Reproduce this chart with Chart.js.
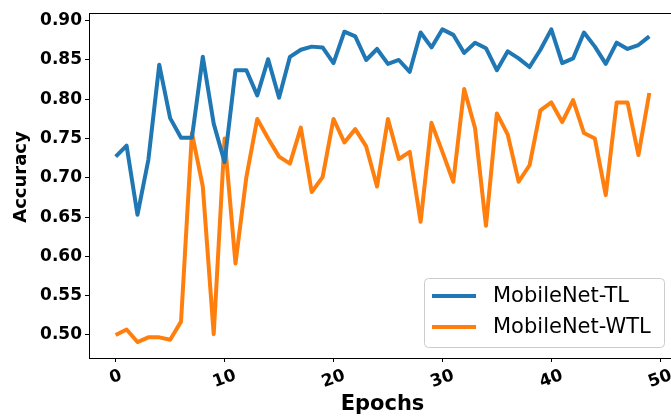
<!DOCTYPE html>
<html lang="en">
<head>
<meta charset="UTF-8">
<title>Accuracy vs Epochs</title>
<script src="https://cdn.jsdelivr.net/npm/chart.js"></script>
<style>
  html, body { margin: 0; padding: 0; background: #fff; overflow: hidden; }
  .chart-box { width: 680px; height: 418px; }
</style>
</head>
<body>
<div class="chart-box"><canvas id="accChart"></canvas></div>
<script>
const epochs = [0, 1, 2, 3, 4, 5, 6, 7, 8, 9,
                10, 11, 12, 13, 14, 15, 16, 17, 18, 19,
                20, 21, 22, 23, 24, 25, 26, 27, 28, 29,
                30, 31, 32, 33, 34, 35, 36, 37, 38, 39,
                40, 41, 42, 43, 44, 45, 46, 47, 48, 49];

const tlAcc = [0.727, 0.741, 0.653, 0.723, 0.844, 0.776, 0.751, 0.751, 0.854, 0.769,
               0.720, 0.837, 0.837, 0.805, 0.851, 0.802, 0.854, 0.863, 0.867, 0.866,
               0.846, 0.886, 0.880, 0.850, 0.864, 0.845, 0.850, 0.835, 0.885, 0.866,
               0.889, 0.882, 0.859, 0.872, 0.865, 0.837, 0.861, 0.852, 0.841, 0.863,
               0.889, 0.846, 0.852, 0.885, 0.867, 0.845, 0.872, 0.864, 0.869, 0.880];

const wtlAcc = [0.500, 0.507, 0.491, 0.497, 0.497, 0.494, 0.517, 0.757, 0.689, 0.501,
                0.750, 0.591, 0.701, 0.775, 0.750, 0.727, 0.718, 0.764, 0.682, 0.701,
                0.775, 0.745, 0.762, 0.740, 0.689, 0.775, 0.724, 0.733, 0.644, 0.770,
                0.733, 0.695, 0.813, 0.763, 0.639, 0.782, 0.755, 0.695, 0.716, 0.786,
                0.796, 0.771, 0.799, 0.757, 0.750, 0.678, 0.796, 0.796, 0.729, 0.808];

const xTicks = [0, 10, 20, 30, 40, 50];
const yTicks = [0.50, 0.55, 0.60, 0.65, 0.70, 0.75, 0.80, 0.85, 0.90];

const FONT = '"DejaVu Sans", "Liberation Sans", sans-serif';

// labels, legend and top spine, drawn matplotlib-style
const decor = {
    id: 'decor',
    afterDraw(chart) {
        const { ctx, chartArea: a, scales } = chart;
        ctx.save();

        ctx.strokeStyle = '#000';
        ctx.lineWidth = 1;
        ctx.beginPath();
        ctx.moveTo(a.left, a.top + 0.5);
        ctx.lineTo(a.right, a.top + 0.5);
        ctx.stroke();

        // rotated x tick labels, centred on the tick
        const rot = 20 * Math.PI / 180;
        ctx.fillStyle = '#000';
        ctx.font = 'bold 17px ' + FONT;
        ctx.textAlign = 'center';
        ctx.textBaseline = 'middle';
        xTicks.forEach(v => {
            const txt = String(v);
            const w = ctx.measureText(txt).width;
            const x = scales.x.getPixelForValue(v);
            const y = a.bottom + 9 + (w * Math.sin(rot) + 17 * Math.cos(rot)) / 2;
            ctx.save();
            ctx.translate(x, y);
            ctx.rotate(-rot);
            ctx.fillText(txt, 0, 0);
            ctx.restore();
        });

        // axis titles
        ctx.font = 'bold 21px ' + FONT;
        ctx.fillText('Epochs', (a.left + a.right) / 2, 405);
        ctx.save();
        ctx.translate(21, 177);
        ctx.rotate(-Math.PI / 2);
        ctx.font = 'bold 18px ' + FONT;
        ctx.fillText('Accuracy', 0, 0);
        ctx.restore();

        // legend box
        ctx.beginPath();
        ctx.roundRect(424.5, 278.5, 240, 69, 4);
        ctx.fillStyle = 'rgba(255,255,255,0.8)';
        ctx.fill();
        ctx.strokeStyle = '#cccccc';
        ctx.stroke();

        ctx.font = '21px ' + FONT;
        ctx.textAlign = 'left';
        chart.data.datasets.forEach((ds, i) => {
            const y = 296 + i * 31;
            ctx.strokeStyle = ds.borderColor;
            ctx.lineWidth = 4;
            ctx.beginPath();
            ctx.moveTo(432, y);
            ctx.lineTo(476, y);
            ctx.stroke();
            ctx.fillStyle = '#000';
            ctx.fillText(ds.label, 493, y + 1);
        });

        ctx.restore();
    }
};

new Chart(document.getElementById('accChart'), {
    type: 'line',
    data: {
        datasets: [{
            label: 'MobileNet-TL',
            data: epochs.map((e, i) => ({ x: e, y: tlAcc[i] })),
            borderColor: '#1f77b4',
            borderWidth: 4,
            pointRadius: 0,
            borderJoinStyle: 'round',
            tension: 0
        }, {
            label: 'MobileNet-WTL',
            data: epochs.map((e, i) => ({ x: e, y: wtlAcc[i] })),
            borderColor: '#ff7f0e',
            borderWidth: 4,
            pointRadius: 0,
            borderJoinStyle: 'round',
            tension: 0
        }]
    },
    options: {
        responsive: true,
        maintainAspectRatio: false,
        animation: false,
        layout: { padding: { left: 0, top: 13, right: 4, bottom: 0 } },
        plugins: {
            legend: { display: false },
            tooltip: { enabled: false }
        },
        scales: {
            x: {
                type: 'linear',
                min: -2.45,
                max: 51.45,
                afterBuildTicks: s => { s.ticks = xTicks.map(v => ({ value: v })); },
                afterFit: s => { s.height = 60; s.paddingLeft = 0; s.paddingRight = 0; },
                ticks: { display: false },
                grid: { drawOnChartArea: false, tickLength: 4, tickColor: '#000', tickWidth: 1 },
                border: { color: '#000', width: 1 }
            },
            y: {
                min: 0.4707,
                max: 0.9098,
                afterBuildTicks: s => { s.ticks = yTicks.map(v => ({ value: v })); },
                afterFit: s => { s.width = 89; s.paddingTop = 0; s.paddingBottom = 0; },
                ticks: {
                    callback: v => v.toFixed(2),
                    color: '#000',
                    padding: 3,
                    font: { family: FONT, size: 17, weight: 'bold' }
                },
                grid: { drawOnChartArea: false, tickLength: 4, tickColor: '#000', tickWidth: 1 },
                border: { color: '#000', width: 1 }
            }
        }
    },
    plugins: [decor]
});
</script>
</body>
</html>
